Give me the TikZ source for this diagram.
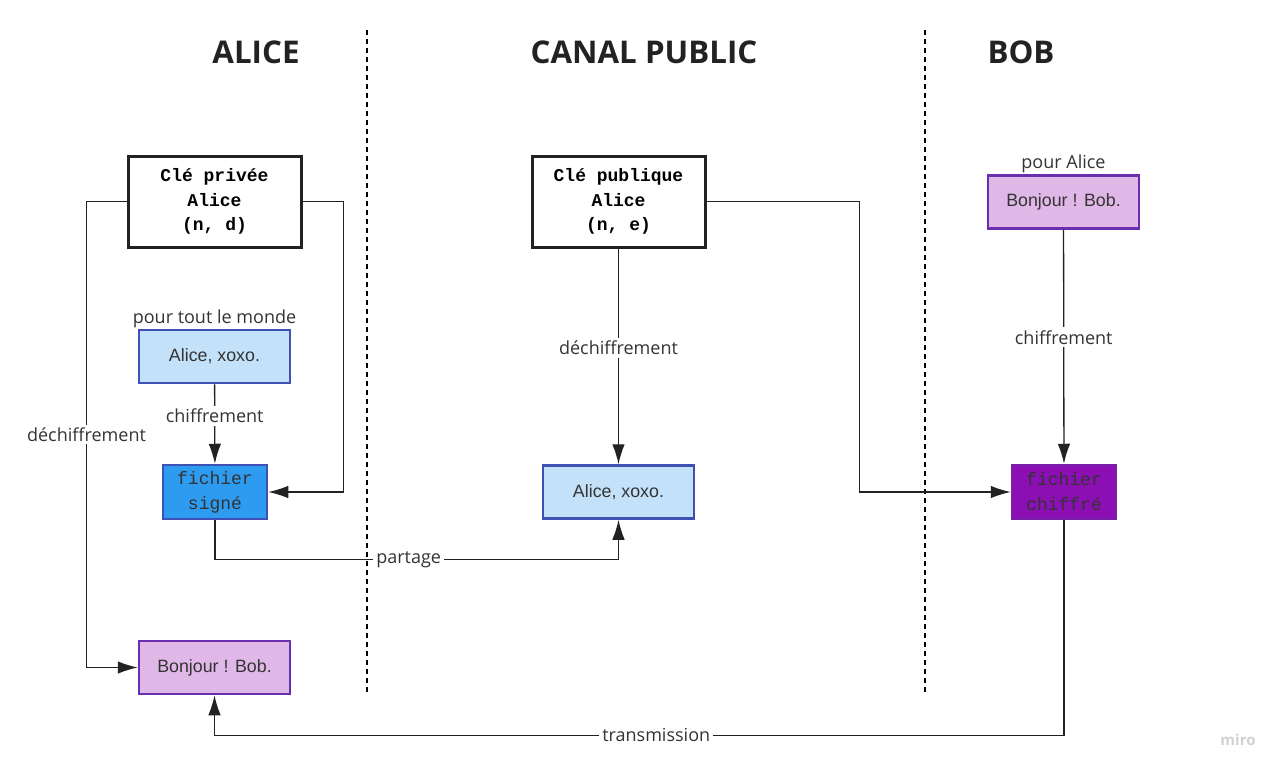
\documentclass[tikz,border=0pt]{standalone}
\usepackage{fontspec}
\setmainfont{Liberation Sans}
\newfontfamily\titlefont{Open Sans}
\newfontfamily\labelfont{Open Sans}
\newfontfamily\keyfont{Liberation Mono}
\usetikzlibrary{arrows.meta,positioning}
\definecolor{linegray}{HTML}{222222}
\definecolor{labelgray}{HTML}{333333}
\definecolor{paleblue}{HTML}{C3E2FA}
\definecolor{midblue}{HTML}{2D9BF0}
\definecolor{indigo}{HTML}{3F51B5}
\definecolor{lilac}{HTML}{E0B8E8}
\definecolor{lilacedge}{HTML}{6A2EB0}
\definecolor{violet}{HTML}{8C0FB4}
\definecolor{violetedge}{HTML}{7A1FA8}
\begin{document}
\begin{tikzpicture}[x=1pt, y=-1pt,
    keybox/.style={draw=linegray, line width=3pt, fill=white, align=center,
        minimum width=173pt, minimum height=91pt,
        font=\keyfont\bfseries\fontsize{18}{24.5}\selectfont},
    msgbox/.style={line width=2.5pt, minimum width=151pt, minimum height=53pt,
        text=labelgray, font=\fontsize{17.8}{20}\selectfont},
    filebox/.style={line width=2.5pt, minimum width=104pt, minimum height=54pt,
        align=center, text=labelgray, font=\keyfont\fontsize{18}{25}\selectfont},
    lab/.style={fill=white, text=labelgray, inner sep=3pt,
        font=\labelfont\fontsize{18}{21}\selectfont},
    title/.style={font=\titlefont\bfseries\fontsize{31.3}{36}\selectfont, text=linegray},
    link/.style={draw=linegray, line width=1.3pt,
        -{Latex[length=20pt,width=12.5pt]}},
    divider/.style={draw=black, line width=1.1pt, dash pattern=on 5pt off 4pt}]
    \useasboundingbox (0,0) rectangle (1288,776);

    % Colonnes
    \node[title] (alice) at (256,52) {ALICE};
    \node[title] (canal) at (644,52) {CANAL PUBLIC};
    \node[title] (bob) at (1021,52) {BOB};
    \draw[divider] (367,30) -- (367,695);
    \draw[divider] (925,30) -- (925,695);

    % Cles
    \node[keybox] (privkey) at (214.5,201.5) {Clé privée\\Alice\\(n, d)};
    \node[keybox] (pubkey) at (618.5,201.5) {Clé publique\\Alice\\(n, e)};

    % Messages
    \node[msgbox, draw=indigo, fill=paleblue] (msgalice) at (214.5,356.5) {Alice, xoxo.};
    \node[lab, fill=none, above=-2pt of msgalice] (forall) {pour tout le monde};
    \node[filebox, draw=indigo, fill=midblue] (signed) at (215,492) {fichier\\signé};
    \node[msgbox, draw=lilacedge, fill=lilac] (msgread) at (214.5,667.5) {Bonjour ! Bob.};
    \node[msgbox, draw=indigo, fill=paleblue] (msgcheck) at (618.5,492) {Alice, xoxo.};
    \node[msgbox, draw=lilacedge, fill=lilac] (msgbob) at (1063.5,202) {Bonjour ! Bob.};
    \node[lab, fill=none, above=-2pt of msgbob] (foralice) {pour Alice};
    \node[filebox, draw=violetedge, fill=violet] (cipher) at (1064,492) {fichier\\chiffré};

    % Connexions
    \draw[link] (privkey.west) -- ++(-40,0) |- node[lab, pos=0.25] {déchiffrement} (msgread.west);
    \draw[link] (privkey.east) -- ++(41,0) |- (signed.east);
    \draw[link] (msgalice) -- node[lab, pos=0.4] {chiffrement} (signed);
    \draw[link] (signed.south) -- ++(0,39) -| node[lab, pos=0.24] {partage} (msgcheck.south);
    \draw[link] (pubkey) -- node[lab, pos=0.46] {déchiffrement} (msgcheck);
    \draw[link] (pubkey.east) -- ++(153,0) |- (cipher.west);
    \draw[link] (msgbob) -- node[lab, pos=0.46] {chiffrement} (cipher);
    \draw[link] (cipher.south) -- ++(0,215) -| node[lab, pos=0.24] {transmission} (msgread.south);

    \node[text=black!18, font=\labelfont\bfseries\fontsize{15}{18}\selectfont] (miro) at (1238,740) {miro};
\end{tikzpicture}
\end{document}
